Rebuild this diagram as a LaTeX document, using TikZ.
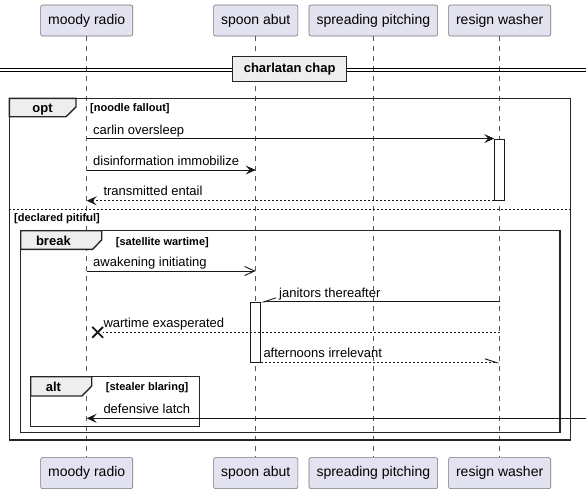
\documentclass[tikz,border=0pt]{standalone}
\usepackage{fontspec}
\setmainfont{Liberation Sans}
\usetikzlibrary{positioning, arrows.meta, shapes.misc}

\definecolor{partfill}{HTML}{E2E2F0}
\definecolor{tabfill}{HTML}{EEEEEE}

\tikzset{
    part/.style={draw=black!55, fill=partfill, rounded corners=2pt, line width=0.6pt,
        minimum height=31pt, inner xsep=7.5pt, font=\fontsize{14}{16}\selectfont},
    lifeline/.style={draw=black!65, line width=0.5pt, dash pattern=on 5pt off 5pt},
    frame/.style={draw=black!85, line width=1.4pt},
    tab/.style={frame, fill=tabfill},
    tablabel/.style={anchor=base, inner sep=0pt, font=\fontsize{13}{15}\selectfont\bfseries},
    guard/.style={anchor=base west, inner sep=0pt, font=\fontsize{11}{13}\selectfont\bfseries},
    msgtext/.style={anchor=base west, inner sep=0pt, font=\fontsize{13}{15}\selectfont},
    msg/.style={draw=black!90, line width=0.9pt},
    reply/.style={msg, dash pattern=on 2pt off 2pt},
    sync/.style={-{Stealth[length=10pt, width=9pt, inset=4pt]}},
    async/.style={-{Straight Barb[length=10pt, width=9pt, line width=0.9pt]}},
    halfup/.style={-{Straight Barb[right, length=12pt, width=8pt, line width=0.9pt]}},
    halfdn/.style={-{Straight Barb[left, length=12pt, width=8pt, line width=0.9pt]}},
    activation/.style={draw=black!90, fill=white, line width=0.9pt, minimum width=10pt, inner sep=0pt},
    lostx/.style={cross out, draw=black!90, line width=1.8pt, minimum size=9pt, inner sep=0pt},
}

\begin{document}
\begin{tikzpicture}[x=1pt, y=-1pt]

    \useasboundingbox (0,0) rectangle (586,493);

    \node[part]   (radio)  at (86.7,20.5)        {moody radio};
    \node[part]   (spoon)  at (255.7,20.5)       {spoon abut};
    \node[part]   (spread) [right=10.6pt of spoon]  {spreading pitching};
    \node[part]   (washer) [right=10.3pt of spread] {resign washer};

    \node[part]   (radiob)  [below=421pt of radio]  {moody radio};
    \node[part]   (spoonb)  [below=421pt of spoon]  {spoon abut};
    \node[part]   (spreadb) [below=421pt of spread] {spreading pitching};
    \node[part]   (washerb) [below=421pt of washer] {resign washer};

    \path (radio.south)  edge [lifeline] (radiob.north)
          (spoon.south)  edge [lifeline] (spoonb.north)
          (spread.south) edge [lifeline] (spreadb.north)
          (washer.south) edge [lifeline] (washerb.north);

    % divider
    \draw[line width=0.9pt] (0,68.3) -- (586,68.3) (0,71.7) -- (586,71.7);
    \node[tab, minimum width=114pt, minimum height=25pt, inner sep=0pt,
          font=\fontsize{13}{15}\selectfont\bfseries] (chap) at (289.7,69.2) {charlatan chap};

    % frames
    \draw[frame] (9.3,98.3) rectangle (570.7,440);
    \draw[frame] (20.7,230.7) rectangle (560,432.7);
    \draw[frame] (30.7,376.7) rectangle (199.3,426.7);
    \draw[reply, line width=0.8pt] (9.3,209) -- (570.7,209);

    \draw[tab] (9.3,98.3) -- (76,98.3) -- (76,107) -- (66,116.7) -- (9.3,116.7) -- cycle;
    \draw[tab] (20.7,230.7) -- (101.7,230.7) -- (101.7,240) -- (92.5,249.3) -- (20.7,249.3) -- cycle;
    \draw[tab] (30.7,376.7) -- (91.7,376.7) -- (91.7,386) -- (82,396) -- (30.7,396) -- cycle;

    \node[tablabel] (opt)   at (42.5,112.8) {opt};
    \node[tablabel] (brk)   at (53.4,245.5) {break};
    \node[tablabel] (alt)   at (53.4,391.6) {alt};
    \node[guard]    (g1)    at (90,111.5)   {[noodle fallout]};
    \node[guard]    (g2)    at (115.7,245)  {[satellite wartime]};
    \node[guard]    (g3)    at (105.7,390.5) {[stealer blaring]};
    \node[guard]    (g4)    at (14,221.5)   {[declared pitiful]};

    % activations
    \node[activation, minimum height=61.3pt] (act1) at (washer |- 0,169.65) {};
    \node[activation, minimum height=60pt]   (act2) at (spoon |- 0,332.3) {};

    \node[lostx, xshift=11pt] (lost) at (radio |- 0,332.3) {};
    \coordinate (offright) at (592,418.3);

    % messages
    \path (radio |- act1.north) edge [msg, sync]    (act1.north west)
          (radio |- 0,170)      edge [msg, sync]    (spoon |- 0,170)
          (act1.south west)     edge [reply, sync]  (radio |- act1.south)
          (radio |- 0,271)      edge [msg, async]   (spoon |- 0,271)
          (washer |- act2.north) edge [msg, halfup] (act2.north east)
          (washer |- lost)      edge [reply]        (lost.east)
          (act2.south east)     edge [reply, halfdn] (washer |- act2.south)
          (offright)            edge [msg, sync]    (radio |- offright);

    \node[msgtext] (t1) at (93,134.3)    {carlin oversleep};
    \node[msgtext] (t2) at (93,165.3)    {disinformation immobilize};
    \node[msgtext] (t3) at (103.3,195.8) {transmitted entail};
    \node[msgtext] (t4) at (93,266.3)    {awakening initiating};
    \node[msgtext] (t5) at (279,297.5)   {janitors thereafter};
    \node[msgtext] (t6) at (103.3,327.5) {wartime exasperated};
    \node[msgtext] (t7) at (263.3,357.8) {afternoons irrelevant};
    \node[msgtext] (t8) at (103.3,413.8) {defensive latch};

\end{tikzpicture}
\end{document}
